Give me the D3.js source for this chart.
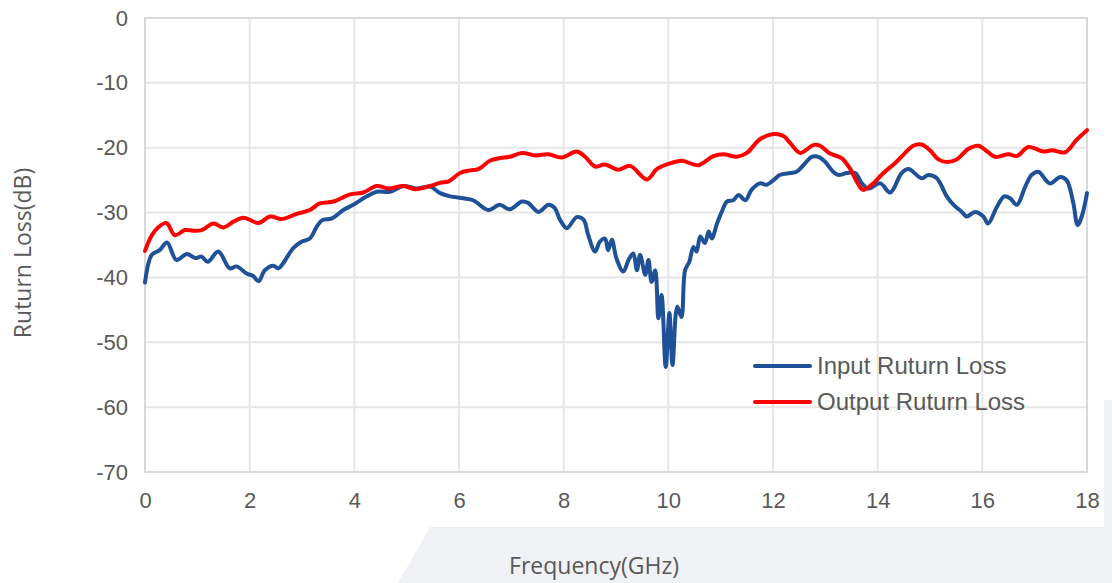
<!DOCTYPE html>
<html>
<head>
<meta charset="utf-8">
<script src="https://cdn.jsdelivr.net/npm/d3@7"></script>
<style>
  body { margin: 0; background: #fff; }
  svg { display: block; }
</style>
</head>
<body>
<script>
// tick values
var xTicks = [0, 2, 4, 6, 8, 10, 12, 14, 16, 18];
var yTicks = [0, -10, -20, -30, -40, -50, -60, -70];

// input return loss, [GHz, dB]
var inputLoss = [
  [0, -40.8], [0.06, -38], [0.13, -36.5], [0.28, -35.8], [0.42, -34.6], [0.6, -37.3],
  [0.8, -36.4], [0.96, -37.0], [1.08, -36.8], [1.2, -37.6], [1.4, -36.0], [1.62, -38.6],
  [1.75, -38.3], [1.94, -39.4], [2.07, -39.8], [2.17, -40.6], [2.29, -38.9], [2.45, -38.2],
  [2.55, -38.6], [2.64, -37.8], [2.83, -35.5], [2.99, -34.5], [3.15, -34.0], [3.28, -32.2],
  [3.38, -31.2], [3.57, -30.9], [3.79, -29.6], [3.98, -28.8], [4.24, -27.5], [4.43, -26.8],
  [4.68, -26.8], [4.94, -25.9], [5.19, -26.3], [5.45, -26.0], [5.64, -27.0], [5.83, -27.5],
  [6.08, -27.8], [6.27, -28.1], [6.56, -29.6], [6.78, -28.8], [6.97, -29.5], [7.2, -28.3],
  [7.32, -28.5], [7.52, -29.9], [7.71, -28.8], [7.83, -29.3], [7.93, -31.1], [8.06, -32.4],
  [8.25, -30.7], [8.38, -31.1], [8.47, -33.5], [8.6, -36.0], [8.69, -34.5], [8.79, -34.0],
  [8.85, -35.8], [8.92, -34.2], [9.01, -37.1], [9.14, -39.1], [9.24, -37.3], [9.33, -36.3],
  [9.4, -38.9], [9.46, -36.5], [9.56, -39.6], [9.62, -37.3], [9.68, -40.7], [9.75, -38.9],
  [9.81, -46.3], [9.87, -42.7], [9.95, -53.8], [10.02, -45.5], [10.08, -53.5], [10.17, -44.5],
  [10.25, -46.1], [10.32, -38.9], [10.4, -37.6], [10.48, -35.3], [10.54, -36.0], [10.61, -33.7],
  [10.7, -34.7], [10.77, -32.9], [10.83, -34.0], [10.93, -31.7], [11.02, -29.9], [11.12, -28.3],
  [11.24, -28.1], [11.34, -27.3], [11.47, -28.1], [11.59, -26.5], [11.75, -25.5], [11.88, -25.7],
  [12.01, -25.0], [12.13, -24.2], [12.33, -23.9], [12.45, -23.7], [12.58, -22.7], [12.74, -21.4],
  [12.87, -21.4], [13.0, -22.2], [13.15, -23.7], [13.25, -24.2], [13.41, -23.9], [13.57, -23.9],
  [13.7, -25.5], [13.82, -26.3], [14.05, -25.5], [14.24, -26.9], [14.46, -23.9], [14.59, -23.3],
  [14.84, -24.7], [14.97, -24.2], [15.13, -24.7], [15.32, -27.5], [15.45, -28.8], [15.61, -29.9],
  [15.7, -30.6], [15.86, -29.9], [16.02, -30.6], [16.11, -31.7], [16.28, -29.1], [16.42, -27.5],
  [16.53, -27.8], [16.66, -28.8], [16.82, -26.0], [16.94, -24.2], [17.07, -23.7], [17.29, -25.5],
  [17.49, -24.5], [17.61, -25.0], [17.74, -28.6], [17.82, -31.9], [17.9, -30.6], [18, -27.0]
];

// output return loss, [GHz, dB]
var outputLoss = [
  [0, -35.9], [0.13, -33.5], [0.25, -32.3], [0.41, -31.6], [0.57, -33.5], [0.76, -32.7],
  [0.92, -32.8], [1.08, -32.7], [1.31, -31.7], [1.5, -32.3], [1.69, -31.4], [1.88, -30.8],
  [2.17, -31.6], [2.39, -30.6], [2.61, -31.0], [2.9, -30.2], [3.15, -29.6], [3.34, -28.6],
  [3.6, -28.3], [3.92, -27.2], [4.17, -26.9], [4.43, -25.9], [4.65, -26.3], [4.94, -25.9],
  [5.16, -26.4], [5.45, -25.9], [5.64, -25.4], [5.8, -25.2], [6.02, -23.9], [6.21, -23.5],
  [6.37, -23.3], [6.59, -22.0], [6.78, -21.6], [6.97, -21.4], [7.2, -20.8], [7.46, -21.2],
  [7.71, -21.0], [7.96, -21.5], [8.25, -20.6], [8.41, -21.4], [8.6, -22.9], [8.79, -22.6],
  [9.04, -23.4], [9.27, -22.8], [9.59, -24.9], [9.78, -23.3], [10.0, -22.5], [10.26, -22.0],
  [10.57, -22.7], [10.86, -21.3], [11.05, -21.0], [11.31, -21.4], [11.5, -20.8], [11.75, -18.7],
  [12.01, -17.9], [12.2, -18.2], [12.33, -19.3], [12.52, -20.8], [12.77, -19.6], [12.9, -19.7],
  [13.09, -20.9], [13.31, -21.6], [13.47, -23.2], [13.6, -25.2], [13.72, -26.5], [13.89, -25.7],
  [14.11, -23.9], [14.33, -22.4], [14.49, -21.1], [14.68, -19.7], [14.84, -19.5], [15.0, -20.4],
  [15.16, -21.8], [15.32, -22.2], [15.51, -21.8], [15.73, -20.2], [15.92, -19.7], [16.08, -20.5],
  [16.24, -21.4], [16.5, -21.0], [16.66, -21.3], [16.88, -19.9], [17.17, -20.6], [17.33, -20.4],
  [17.58, -20.7], [17.8, -18.8], [18, -17.3]
];

var seriesNames = ["Input Ruturn Loss", "Output Ruturn Loss"];
var seriesColors = ["#1f5199", "#ff0000"];

var W = 1112, H = 583;
var margin = {top: 18, right: 25, bottom: 111, left: 145},
    width = W - margin.left - margin.right,
    height = H - margin.top - margin.bottom;

var x = d3.scaleLinear().domain([0, 18]).range([0, width]);
var y = d3.scaleLinear().domain([-70, 0]).range([height, 0]);

var svg = d3.select("body").append("svg")
    .attr("width", W)
    .attr("height", H);

// grey panel behind the chart, bottom right
svg.append("path")
    .attr("d", "M1104,400 L1112,400 L1112,583 L398,583 L430,527 L1104,527 Z")
    .attr("fill", "#f0f1f4");

var g = svg.append("g")
    .attr("transform", "translate(" + margin.left + "," + margin.top + ")");

// grid
g.selectAll(".vgrid")
    .data(xTicks)
    .enter().append("line")
    .attr("x1", function(d) { return x(d); })
    .attr("x2", function(d) { return x(d); })
    .attr("y1", 0)
    .attr("y2", height)
    .attr("stroke", "#e6e6e6")
    .attr("stroke-width", 2);

g.selectAll(".hgrid")
    .data(yTicks)
    .enter().append("line")
    .attr("x1", 0)
    .attr("x2", width)
    .attr("y1", function(d) { return y(d); })
    .attr("y2", function(d) { return y(d); })
    .attr("stroke", "#e6e6e6")
    .attr("stroke-width", 2);

// frame
g.append("rect")
    .attr("width", width)
    .attr("height", height)
    .attr("fill", "none")
    .attr("stroke", "#d9d9d9")
    .attr("stroke-width", 2);

// axes (labels only), plain hyphen for negatives
var fmt = function(d) { return String(d); };
var xAxis = g.append("g")
    .attr("transform", "translate(0," + height + ")")
    .call(d3.axisBottom(x).tickValues(xTicks).tickFormat(fmt).tickSize(0).tickPadding(20));
var yAxis = g.append("g")
    .call(d3.axisLeft(y).tickValues(yTicks).tickFormat(fmt).tickSize(0).tickPadding(17));

[xAxis, yAxis].forEach(function(a) {
  a.select(".domain").remove();
  a.selectAll("text")
    .attr("fill", "#595959")
    .style("font-family", "'Liberation Sans', Arial, sans-serif")
    .style("font-size", "22px");
});

// lines
var line = d3.line()
    .x(function(d) { return x(d[0]); })
    .y(function(d) { return y(d[1]); })
    .curve(d3.curveCatmullRom);

[inputLoss, outputLoss].forEach(function(data, i) {
  g.append("path")
    .datum(data)
    .attr("fill", "none")
    .attr("stroke", seriesColors[i])
    .attr("stroke-width", 4)
    .attr("stroke-linejoin", "round")
    .attr("stroke-linecap", "round")
    .attr("d", line);
});

// legend
var legend = svg.append("g").attr("transform", "translate(755,366)");
seriesNames.forEach(function(name, i) {
  var row = legend.append("g").attr("transform", "translate(0," + (i * 36) + ")");
  row.append("line")
    .attr("x1", 0).attr("x2", 55)
    .attr("stroke", seriesColors[i])
    .attr("stroke-width", 4)
    .attr("stroke-linecap", "round");
  row.append("text")
    .attr("x", 62)
    .attr("dy", "0.35em")
    .attr("fill", "#595959")
    .style("font-family", "'Liberation Sans', Arial, sans-serif")
    .style("font-size", "24px")
    .text(name);
});

// axis titles
svg.append("text")
    .attr("transform", "translate(31,253) rotate(-90)")
    .attr("text-anchor", "middle")
    .attr("fill", "#595959")
    .style("font-family", "'Open Sans', sans-serif")
    .style("font-size", "23px")
    .text("Ruturn Loss(dB)");

svg.append("text")
    .attr("x", 594)
    .attr("y", 574)
    .attr("text-anchor", "middle")
    .attr("fill", "#595959")
    .style("font-family", "'Open Sans', sans-serif")
    .style("font-size", "23px")
    .text("Frequency(GHz)");
</script>
</body>
</html>
